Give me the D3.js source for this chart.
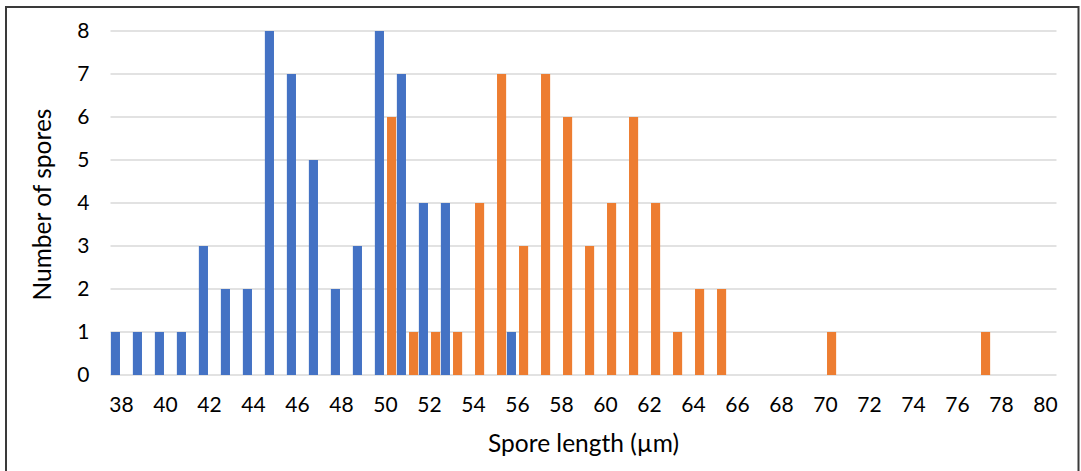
<!DOCTYPE html>
<html>
<head>
<meta charset="utf-8">
<script src="https://cdn.jsdelivr.net/npm/d3@7/dist/d3.min.js"></script>
<style>
  html, body { margin: 0; padding: 0; background: #fff; }
  svg { display: block; }
  text { font-family: Lato, "Open Sans", sans-serif; fill: #000; }
</style>
</head>
<body>
<svg id="chart" width="1081" height="471"></svg>
<script>
// ---- data ----
const categories = d3.range(38, 81); // spore length categories 38..80 µm
const seriesNames = ["A", "B"];
const seriesA = [1,1,1,1,3,2,2,8,7,5,2,3,8,7,4,4,0,0,1,0,0,0,0,0,0,0,0,0,0,0,0,0,0,0,0,0,0,0,0,0,0,0,0];
const seriesB = [0,0,0,0,0,0,0,0,0,0,0,0,6,1,1,1,4,7,3,7,6,3,4,6,4,1,2,2,0,0,0,0,1,0,0,0,0,0,0,1,0,0,0];
const yTicks = [0,1,2,3,4,5,6,7,8];
const xTickLabels = d3.range(38, 81, 2);
const xTitle = "Spore length (µm)";
const yTitle = "Number of spores";
const colors = ["#4472C4", "#ED7D31"];

// ---- layout ----
const svg = d3.select("#chart");
const m = { left: 110.5, right: 1056.5, top: 31, bottom: 375 };

svg.append("rect")
  .attr("x", 6).attr("y", 7).attr("width", 1072.5).attr("height", 480)
  .attr("fill", "#fff").attr("stroke", "#3a3a3a").attr("stroke-width", 2);

const x = d3.scaleBand().domain(categories).range([m.left, m.right]).paddingInner(0).paddingOuter(0);
const x1 = d3.scaleBand().domain(seriesNames).range([0, x.bandwidth()]).paddingInner(0.25).paddingOuter(0.03);
const y = d3.scaleLinear().domain([0, 8]).range([m.bottom, m.top]);

// gridlines
svg.append("g").selectAll("line").data(yTicks).join("line")
  .attr("x1", m.left).attr("x2", m.right)
  .attr("y1", d => y(d)).attr("y2", d => y(d))
  .attr("stroke", "#D9D9D9").attr("stroke-width", 1.3);

// y axis labels via d3 axis
const yAxis = d3.axisLeft(y).tickValues(yTicks).tickSize(0).tickPadding(0).tickFormat(d3.format("d"));
const gy = svg.append("g").attr("transform", `translate(${m.left - 21},0)`).call(yAxis);
gy.select(".domain").remove();
gy.selectAll("text").style("font-size", "21px").attr("fill", "#000").attr("font-family", "Lato");

// x axis labels
const xAxis = d3.axisBottom(x).tickValues(xTickLabels).tickSize(0).tickPadding(0);
const gx = svg.append("g").attr("transform", `translate(0,${m.bottom + 22})`).call(xAxis);
gx.select(".domain").remove();
gx.selectAll("text").style("font-size", "21px").attr("fill", "#000").attr("font-family", "Lato");

// bars
const rows = categories.map((c, i) => ({ c, vals: [seriesA[i], seriesB[i]] }));
const groups = svg.append("g").selectAll("g").data(rows).join("g")
  .attr("transform", d => `translate(${x(d.c)},0)`);
groups.selectAll("rect").data(d => d.vals.map((v, k) => ({ k, v }))).join("rect")
  .filter(d => d.v > 0)
  .attr("x", d => x1(seriesNames[d.k]))
  .attr("width", x1.bandwidth())
  .attr("y", d => y(d.v))
  .attr("height", d => y(0) - y(d.v))
  .attr("fill", d => colors[d.k]);

// titles
svg.append("text").attr("x", 583.5).attr("y", 452).attr("text-anchor", "middle")
  .style("font-size", "24.5px").text(xTitle);
svg.append("text").attr("transform", "translate(51,204.5) rotate(-90)").attr("text-anchor", "middle")
  .style("font-size", "24.5px").text(yTitle);
</script>
</body>
</html>
